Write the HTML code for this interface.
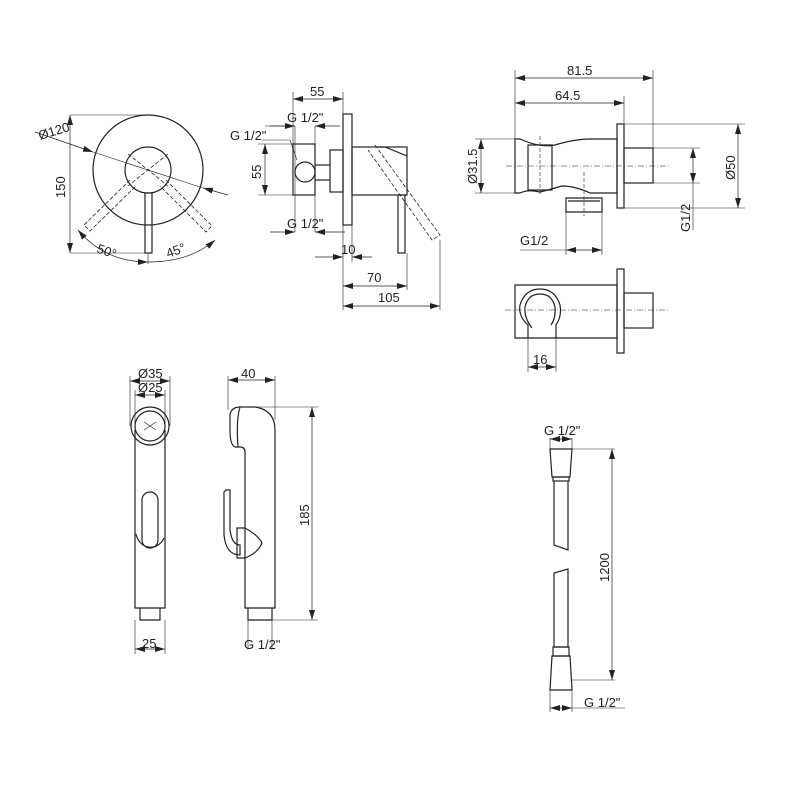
<!DOCTYPE html>
<html><head><style>
body{margin:0;background:#fff}
svg{display:block}
text{font-family:"Liberation Sans",sans-serif;font-size:13px;fill:#222}
</style></head><body>
<svg width="800" height="800" viewBox="0 0 800 800" xmlns="http://www.w3.org/2000/svg">
<defs>
<marker id="a" viewBox="0 0 10 6" refX="10" refY="3" markerWidth="10" markerHeight="6" orient="auto-start-reverse" markerUnits="userSpaceOnUse"><path d="M0,0L10,3L0,6z" fill="#222"/></marker>
</defs>
<g fill="none" stroke="#222" stroke-width="1.2">
<!-- rosette front -->
<circle cx="148" cy="170" r="55"/>
<circle cx="148" cy="170" r="23"/>
<rect x="145" y="193" width="7" height="60"/>
<g stroke-dasharray="4,2" stroke-width="0.8">
<line x1="128" y1="154" x2="168" y2="186"/><line x1="168" y1="154" x2="128" y2="186"/>
<path d="M130,180 L84,225 L90,231 L136,186"/>
<path d="M166,180 L212,226 L206,232 L160,186"/>
<path d="M375,145 L440,235 L432,240 L368,150"/>
</g>
<line x1="70" y1="115" x2="148" y2="115" stroke-width="0.6"/>
<line x1="70" y1="253" x2="145" y2="253" stroke-width="0.6"/>
<line x1="70" y1="115" x2="70" y2="253" stroke-width="0.7" marker-start="url(#a)" marker-end="url(#a)"/>
<line x1="35" y1="132" x2="93" y2="152" stroke-width="0.7" marker-end="url(#a)"/>
<line x1="93" y1="152" x2="203" y2="188" stroke-width="0.6"/>
<line x1="228" y1="195" x2="203" y2="188" stroke-width="0.7" marker-end="url(#a)"/>
<path d="M78,230 Q105,262 148,262" stroke-width="0.7" marker-start="url(#a)" marker-end="url(#a)"/>
<path d="M148,262 Q190,262 215,240" stroke-width="0.7" marker-end="url(#a)"/>
<line x1="148" y1="253" x2="148" y2="264" stroke-width="0.6"/>
<!-- valve side -->
<rect x="343" y="114" width="9" height="111"/>
<rect x="352" y="147" width="55" height="48"/>
<rect x="330" y="150" width="13" height="42"/>
<rect x="293" y="144" width="22" height="51"/>
<circle cx="305" cy="172" r="10"/>
<line x1="315" y1="165" x2="330" y2="165"/><line x1="315" y1="180" x2="330" y2="180"/>
<path d="M378,147 L385,147 L407,156"/>
<rect x="398" y="195" width="7" height="58"/>
<g stroke-width="0.6">
<line x1="293" y1="92" x2="293" y2="144"/><line x1="343" y1="92" x2="343" y2="114"/>
<line x1="265" y1="126" x2="293" y2="126"/><line x1="295" y1="126" x2="295" y2="232"/><line x1="315" y1="126" x2="315" y2="232"/>
<line x1="258" y1="144" x2="293" y2="144"/><line x1="258" y1="195" x2="293" y2="195"/>
<line x1="343" y1="225" x2="343" y2="310"/><line x1="352" y1="225" x2="352" y2="262"/>
<line x1="407" y1="253" x2="407" y2="290"/><line x1="440" y1="240" x2="440" y2="310"/>
<line x1="262" y1="140" x2="290" y2="140"/><line x1="290" y1="140" x2="297" y2="160"/>
</g>
<g stroke-width="0.7">
<line x1="293" y1="99" x2="343" y2="99" marker-start="url(#a)" marker-end="url(#a)"/>
<line x1="270" y1="126" x2="295" y2="126" marker-end="url(#a)"/><line x1="340" y1="126" x2="315" y2="126" marker-end="url(#a)"/>
<line x1="265" y1="144" x2="265" y2="195" marker-start="url(#a)" marker-end="url(#a)"/>
<line x1="270" y1="232" x2="295" y2="232" marker-end="url(#a)"/><line x1="345" y1="232" x2="315" y2="232" marker-end="url(#a)"/>
<line x1="315" y1="257" x2="343" y2="257" marker-end="url(#a)"/><line x1="372" y1="257" x2="352" y2="257" marker-end="url(#a)"/>
<line x1="343" y1="286" x2="407" y2="286" marker-start="url(#a)" marker-end="url(#a)"/>
<line x1="343" y1="306" x2="440" y2="306" marker-start="url(#a)" marker-end="url(#a)"/>
</g>
<!-- wall elbow top -->
<path d="M515,139 L520,139 Q540,148 555,145 Q575,139 590,139 L617,139 L617,193 L590,193 Q575,186 562,186 Q548,190 540,192 Q528,189 520,193 L515,193 Z"/>
<path d="M528,145 L552,145 L552,190 L528,190 Z"/>
<rect x="617" y="124" width="7" height="84"/>
<rect x="624" y="148" width="29" height="35"/>
<path d="M566,198 L602,198 L602,212 L566,212 Z"/><line x1="568" y1="201" x2="600" y2="201"/>
<g stroke-width="0.6">
<line x1="515" y1="70" x2="515" y2="139"/><line x1="653" y1="70" x2="653" y2="148"/><line x1="624" y1="96" x2="624" y2="124"/>
<line x1="475" y1="139" x2="515" y2="139"/><line x1="475" y1="193" x2="515" y2="193"/>
<line x1="624" y1="124" x2="745" y2="124"/><line x1="624" y1="208" x2="745" y2="208"/>
<line x1="653" y1="148" x2="700" y2="148"/><line x1="653" y1="183" x2="700" y2="183"/>
<line x1="566" y1="212" x2="566" y2="255"/><line x1="602" y1="212" x2="602" y2="255"/>
<line x1="506" y1="166" x2="670" y2="166" stroke-dasharray="6,2,1,2"/>
<line x1="540" y1="136" x2="540" y2="196" stroke-dasharray="4,2"/>
<line x1="584" y1="172" x2="584" y2="216" stroke-dasharray="4,2"/>
</g>
<g stroke-width="0.7">
<line x1="515" y1="78" x2="653" y2="78" marker-start="url(#a)" marker-end="url(#a)"/>
<line x1="515" y1="103" x2="624" y2="103" marker-start="url(#a)" marker-end="url(#a)"/>
<line x1="481" y1="139" x2="481" y2="193" marker-start="url(#a)" marker-end="url(#a)"/>
<line x1="738" y1="124" x2="738" y2="208" marker-start="url(#a)" marker-end="url(#a)"/>
<line x1="693" y1="148" x2="693" y2="183" marker-start="url(#a)" marker-end="url(#a)"/>
<line x1="693" y1="183" x2="693" y2="230" stroke-width="0.6"/>
<line x1="520" y1="250" x2="566" y2="250" stroke-width="0.6"/>
<line x1="566" y1="250" x2="602" y2="250" marker-start="url(#a)" marker-end="url(#a)"/>
</g>
<!-- wall elbow bottom -->
<path d="M515,285 L617,285 L617,338 L515,338 Z"/>
<rect x="617" y="269" width="7" height="84"/>
<rect x="624" y="293" width="29" height="35"/>
<path d="M528,338 L528,325 Q518,316 520,305 Q525,289 540,289 Q555,289 560,305 Q562,316 556,325 L556,338"/>
<path d="M532,328 Q524,318 525,307 Q528,294 540,294 Q552,294 555,307 Q556,318 551,325"/>
<g stroke-width="0.6">
<line x1="505" y1="310" x2="668" y2="310" stroke-dasharray="6,2,1,2"/>
<line x1="528" y1="338" x2="528" y2="372"/><line x1="556" y1="338" x2="556" y2="372"/>
</g>
<line x1="528" y1="367" x2="556" y2="367" stroke-width="0.7" marker-start="url(#a)" marker-end="url(#a)"/>
<!-- hand shower front -->
<path d="M135,430 L135,608 L165,608 L165,430"/>
<circle cx="150" cy="426" r="19"/>
<circle cx="150" cy="426" r="15"/>
<rect x="142" y="492" width="16" height="56" rx="8"/>
<path d="M136,534 A15,17 0 0 0 164,538"/>
<path d="M140,608 L140,620 L160,620 L160,608"/>
<g stroke-width="0.6">
<line x1="130" y1="376" x2="130" y2="426"/><line x1="170" y1="376" x2="170" y2="426"/>
<line x1="135" y1="390" x2="135" y2="426"/><line x1="165" y1="390" x2="165" y2="426"/>
<line x1="135" y1="620" x2="135" y2="654"/><line x1="165" y1="620" x2="165" y2="654"/>
<line x1="144" y1="422" x2="156" y2="430"/><line x1="156" y1="422" x2="144" y2="430"/>
</g>
<g stroke-width="0.7">
<line x1="130" y1="381" x2="170" y2="381" marker-start="url(#a)" marker-end="url(#a)"/>
<line x1="135" y1="395" x2="165" y2="395" marker-start="url(#a)" marker-end="url(#a)"/>
<line x1="135" y1="649" x2="165" y2="649" marker-start="url(#a)" marker-end="url(#a)"/>
</g>
<!-- hand shower side -->
<path d="M245,608 L245,452 Q245,447 240,447 L235,447 Q230,445 230,430 L230,414 Q232,407 240,407 L255,407 Q275,410 275,430 L275,608 Z"/>
<path d="M240,407 Q236,420 238,447"/>
<path d="M226,490 L230,490 L230,530 Q232,545 240,545 L240,555 Q226,555 224,535 L224,492 Z"/>
<path d="M237,528 L245,528 Q258,535 262,543 Q258,553 245,558 L237,558 Z"/>
<path d="M248,608 L248,620 L272,620 L272,608"/>
<g stroke-width="0.6">
<line x1="228" y1="376" x2="228" y2="410"/><line x1="275" y1="376" x2="275" y2="420"/>
<line x1="255" y1="407" x2="318" y2="407"/><line x1="272" y1="620" x2="318" y2="620"/>
<line x1="248" y1="620" x2="248" y2="650"/><line x1="272" y1="620" x2="272" y2="650"/>
</g>
<g stroke-width="0.7">
<line x1="228" y1="380" x2="275" y2="380" marker-start="url(#a)" marker-end="url(#a)"/>
<line x1="312" y1="407" x2="312" y2="620" marker-start="url(#a)" marker-end="url(#a)"/>
</g>
<!-- hose -->
<path d="M550,449 L572,449 L570,477 L552,477 Z"/>
<rect x="553" y="477" width="16" height="4"/>
<path d="M554,481 L554,545 L568,550 L568,481"/>
<path d="M554,573 L568,569 L568,647 L554,647 Z"/>
<rect x="553" y="647" width="16" height="9"/>
<path d="M552,656 L570,656 L572,690 L550,690 Z"/>
<g stroke-width="0.6">
<line x1="572" y1="449" x2="615" y2="449"/><line x1="572" y1="680" x2="615" y2="680"/>
<line x1="550" y1="438" x2="550" y2="449"/><line x1="572" y1="438" x2="572" y2="449"/>
<line x1="550" y1="690" x2="550" y2="712"/><line x1="572" y1="690" x2="572" y2="712"/>
<line x1="572" y1="708" x2="625" y2="708"/>
</g>
<g stroke-width="0.7">
<line x1="550" y1="439" x2="572" y2="439" marker-start="url(#a)" marker-end="url(#a)"/>
<line x1="612" y1="449" x2="612" y2="680" marker-start="url(#a)" marker-end="url(#a)"/>
<line x1="550" y1="708" x2="572" y2="708" marker-start="url(#a)" marker-end="url(#a)"/>
</g>
</g>
<!-- texts -->
<text x="40" y="140" transform="rotate(-17 40 140)">Ø120</text>
<text x="65" y="198" transform="rotate(-90 65 198)">150</text>
<text x="96" y="252" transform="rotate(20 96 252)">50°</text>
<text x="168" y="258" transform="rotate(-20 168 258)">45°</text>
<text x="310" y="96">55</text>
<text x="287" y="122">G 1/2"</text>
<text x="230" y="140">G 1/2"</text>
<text x="261" y="179" transform="rotate(-90 261 179)">55</text>
<text x="287" y="228">G 1/2"</text>
<text x="341" y="254">10</text>
<text x="367" y="282">70</text>
<text x="378" y="302">105</text>
<text x="567" y="75">81.5</text>
<text x="555" y="100">64.5</text>
<text x="477" y="184" transform="rotate(-90 477 184)">Ø31.5</text>
<text x="735" y="180" transform="rotate(-90 735 180)">Ø50</text>
<text x="690" y="232" transform="rotate(-90 690 232)">G1/2</text>
<text x="520" y="245">G1/2</text>
<text x="533" y="364">16</text>
<text x="138" y="378">Ø35</text>
<text x="138" y="392">Ø25</text>
<text x="142" y="648">25</text>
<text x="241" y="378">40</text>
<text x="309" y="526" transform="rotate(-90 309 526)">185</text>
<text x="244" y="649">G 1/2"</text>
<text x="544" y="435">G 1/2"</text>
<text x="609" y="582" transform="rotate(-90 609 582)">1200</text>
<text x="584" y="707">G 1/2"</text>
</svg>
</body></html>
